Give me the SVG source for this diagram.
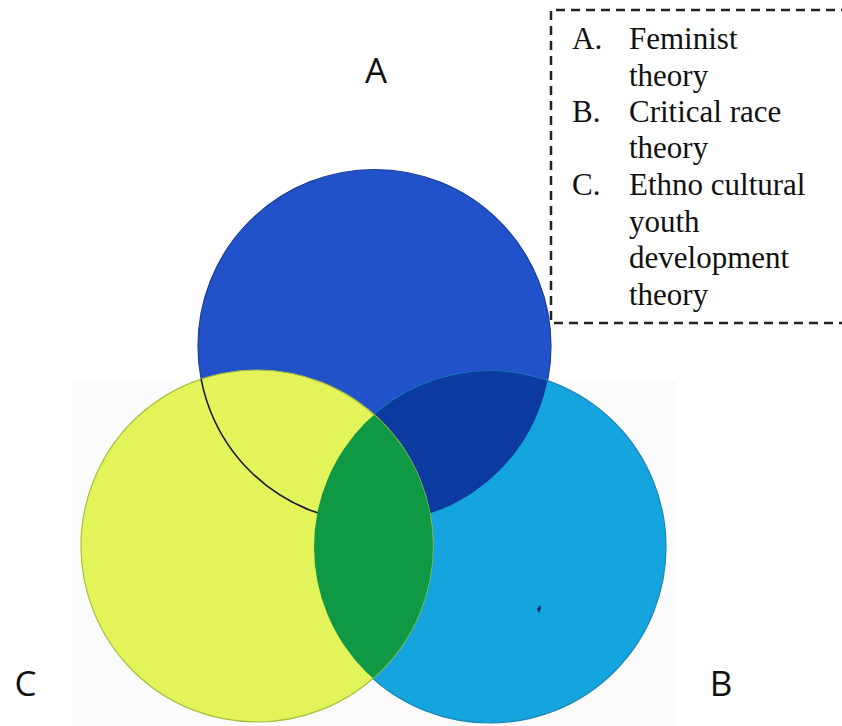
<svg xmlns="http://www.w3.org/2000/svg" width="842" height="726" viewBox="0 0 842 726">
  <defs>
    <style>
      .lbl { font-family: "Open Sans", "Liberation Sans", sans-serif; font-size: 35px; fill: #111; text-anchor: middle; }
      .leg { font-family: "Liberation Serif", "Times New Roman", serif; font-size: 31px; fill: #111; }
    </style>
    <clipPath id="clipCyan"><circle cx="490" cy="547" r="176"/></clipPath>
    <clipPath id="clipYellow"><circle cx="257" cy="546" r="176"/></clipPath>
  </defs>
  <rect width="842" height="726" fill="#ffffff"/>
  <rect x="72" y="381" width="604" height="345" fill="#fbfbfb"/>

  <g id="circle-A">
    <circle cx="374.5" cy="346" r="176.5" fill="#2152c9" stroke="#1a3d9c" stroke-width="1.2"/>
  </g>
  <g id="circle-B">
    <circle cx="490" cy="547" r="176" fill="#15a5de" stroke="#1a86b8" stroke-width="1.2"/>
    <path d="M537 609 l3 -4 l1 3 l-2 5 z" fill="#1a2a60"/>
  </g>
  <g id="overlap-AB">
    <circle cx="374.5" cy="346" r="176.5" fill="#0b3ba0" clip-path="url(#clipCyan)"/>
  </g>
  <g id="circle-C">
    <circle cx="257" cy="546" r="176" fill="#e3f35a" stroke="#a8bf3c" stroke-width="1.2"/>
    <circle cx="374.5" cy="346" r="176.5" fill="none" stroke="#1c1c30" stroke-width="1.6" clip-path="url(#clipYellow)"/>
  </g>
  <g id="overlap-BC">
    <circle cx="257" cy="546" r="176" fill="#0f9944" clip-path="url(#clipCyan)"/>
  </g>

  <g id="connectors"></g>

  <g id="label-A"><text class="lbl" x="376" y="83">A</text></g>
  <g id="label-B"><text class="lbl" x="721" y="696">B</text></g>
  <g id="label-C"><text class="lbl" x="25.5" y="696">C</text></g>

  <g id="legend">
    <path d="M850 10 H551 V323 H850" fill="none" stroke="#222" stroke-width="2.5" stroke-dasharray="9 6"/>
    <text class="leg" x="572" y="49">A.</text>
    <text class="leg" x="629" y="49">Feminist</text>
    <text class="leg" x="629" y="86">theory</text>
    <text class="leg" x="572" y="122">B.</text>
    <text class="leg" x="629" y="122">Critical race</text>
    <text class="leg" x="629" y="158">theory</text>
    <text class="leg" x="572" y="195">C.</text>
    <text class="leg" x="629" y="195">Ethno cultural</text>
    <text class="leg" x="629" y="232">youth</text>
    <text class="leg" x="629" y="268">development</text>
    <text class="leg" x="629" y="305">theory</text>
  </g>
</svg>
